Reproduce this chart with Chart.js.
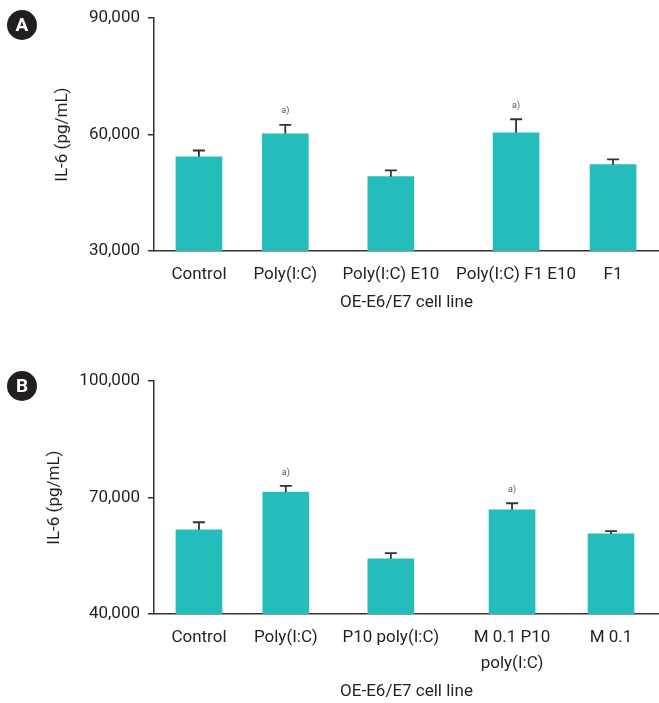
<!DOCTYPE html>
<html>
<head>
<meta charset="utf-8">
<script src="https://cdn.jsdelivr.net/npm/chart.js@4"></script>
<style>
  body { margin: 0; background: #fff; width: 659px; height: 703px; position: relative; overflow: hidden; }
  canvas { position: absolute; left: 0; }
  #chartA { top: 0; }
  #chartB { top: 363px; }
  .tag { position: absolute; left: 7px; width: 30px; height: 30px; border-radius: 50%; background: #231f20;
         color: #fff; font: bold 19px Roboto, sans-serif; text-align: center; line-height: 30px; }
</style>
</head>
<body>
<canvas id="chartA" width="659" height="320"></canvas>
<canvas id="chartB" width="659" height="340"></canvas>
<div class="tag" style="top:10px">A</div>
<div class="tag" style="top:371px">B</div>
<script>
// panel A
const labelsA = ['Control', 'Poly(I:C)', 'Poly(I:C) E10', 'Poly(I:C) F1 E10', 'F1'];
const meanA = [54300, 60200, 49150, 60450, 52250];
const errTopA = [55900, 62500, 50770, 63950, 53600];
const sigA = [false, true, false, true, false];

// panel B
const labelsB = ['Control', 'Poly(I:C)', 'P10 poly(I:C)', ['M 0.1 P10', 'poly(I:C)'], 'M 0.1'];
const meanB = [61700, 71450, 54250, 66850, 60650];
const errTopB = [63650, 73000, 55700, 68550, 61350];
const sigB = [false, true, false, true, false];

// where the bars sit along the x axis (0..10 span), spacing is uneven in the figure
const slotA = [0.89, 2.6, 4.69, 7.17, 9.09];
const slotB = [0.89, 2.61, 4.69, 7.09, 9.05];

const ink = '#231f20';
const teal = '#24bdbc';
const font = 'Roboto, sans-serif';

// mean + SD whiskers and the "a)" marks, drawn on top of the bars
const errorBars = {
  id: 'errorBars',
  afterDatasetsDraw(chart) {
    const {ctx} = chart;
    const y = chart.scales.y;
    const meta = chart.getDatasetMeta(0);
    const {hi, sig, gap} = chart.config.data.datasets[0];
    ctx.save();
    meta.data.forEach((bar, i) => {
      const top = y.getPixelForValue(hi[i]);
      ctx.strokeStyle = '#333';
      ctx.lineWidth = 1.8;
      ctx.beginPath();
      ctx.moveTo(bar.x, bar.y);
      ctx.lineTo(bar.x, top);
      ctx.moveTo(bar.x - 6, top);
      ctx.lineTo(bar.x + 6, top);
      ctx.stroke();
      if (sig[i]) {
        ctx.fillStyle = '#555';
        ctx.font = '9px ' + font;
        ctx.textAlign = 'center';
        ctx.textBaseline = 'middle';
        ctx.fillText('a)', bar.x, top - gap);
      }
    });
    ctx.restore();
  }
};

function makeChart(id, labels, slots, mean, hi, sig, yMin, yMax, xHeight, titleLeft, titleBottom, gap) {
  return new Chart(document.getElementById(id), {
    type: 'bar',
    data: {
      datasets: [{
        data: slots.map((s, i) => ({x: s, y: mean[i]})),
        hi: hi, sig: sig, gap: gap,
        backgroundColor: teal,
        barThickness: 46,
        borderWidth: 0
      }]
    },
    options: {
      responsive: false,
      animation: false,
      layout: {padding: {top: 15.8, right: 0, bottom: 0, left: 0}},
      plugins: {
        legend: {display: false},
        tooltip: {enabled: false}
      },
      scales: {
        x: {
          type: 'linear',
          offset: false,
          min: 0,
          max: 10,
          grid: {display: false},
          border: {display: true, color: '#333', width: 1.5},
          afterBuildTicks: s => { s.ticks = slots.map(v => ({value: v})); },
          afterFit: s => { s.height = xHeight; },
          ticks: {
            autoSkip: false,
            maxRotation: 0,
            padding: 2,
            color: ink,
            font: {family: font, size: 17, lineHeight: 1.57},
            callback: (v, i) => labels[i]
          },
          title: {
            display: true,
            text: 'OE-E6/E7 cell line',
            color: ink,
            font: {family: font, size: 17},
            padding: {top: 0, bottom: titleBottom}
          }
        },
        y: {
          min: yMin,
          max: yMax,
          afterFit: s => { s.width = 154; },
          ticks: {
            stepSize: 30000,
            padding: 8,
            color: ink,
            font: {family: font, size: 17},
            callback: v => v.toLocaleString('en-US')
          },
          grid: {drawOnChartArea: false, drawTicks: true, tickLength: 6, color: '#333', lineWidth: 1.5},
          border: {display: true, color: '#333', width: 1.5},
          title: {
            display: true,
            text: 'IL-6 (pg/mL)',
            color: ink,
            font: {family: font, size: 17},
            padding: {top: titleLeft, bottom: 0}
          }
        }
      }
    },
    plugins: [errorBars]
  });
}

makeChart('chartA', labelsA, slotA, meanA, errTopA, sigA, 30000, 90000, 69, 53, 7, 14);
makeChart('chartB', labelsB, slotB, meanB, errTopB, sigB, 40000, 100000, 89, 45, 1, 13);
</script>
</body>
</html>
